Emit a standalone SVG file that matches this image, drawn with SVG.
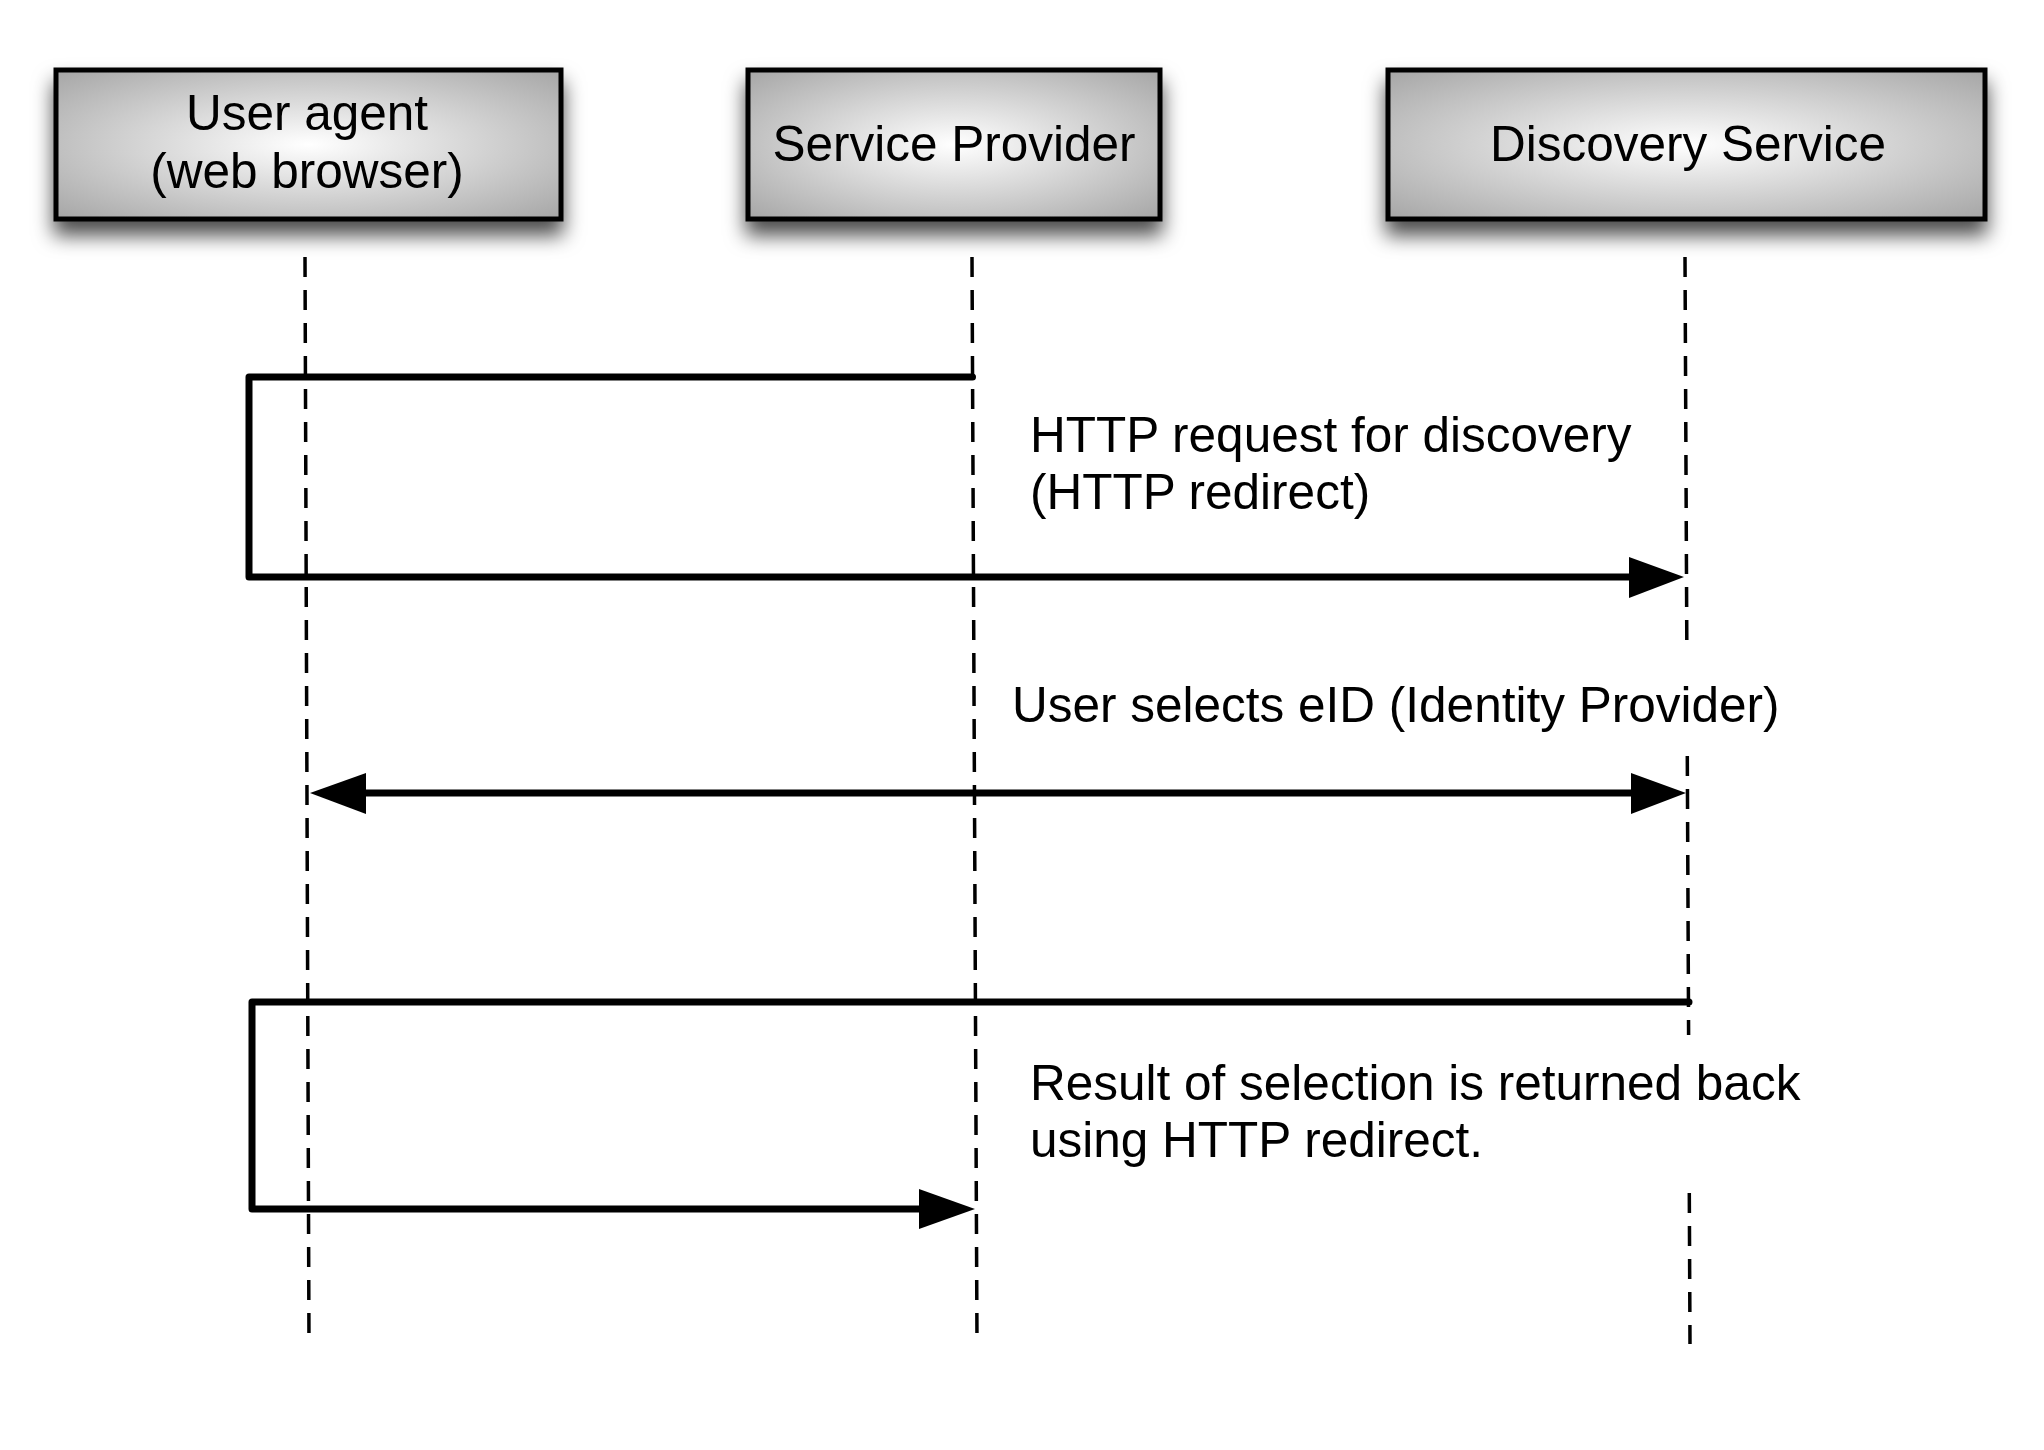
<svg xmlns="http://www.w3.org/2000/svg" width="2044" height="1450" viewBox="0 0 2044 1450">
  <style>
    .box { stroke: #000; stroke-width: 5; fill: url(#boxGrad); filter: url(#shadow); }
    .label { font-family: "Liberation Sans", Arial, Helvetica, sans-serif; font-size: 49.5px; fill: #000; }
    .mid { text-anchor: middle; }
    .life { stroke: #000; stroke-width: 3.5; stroke-dasharray: 20 13; fill: none; }
    .msg { stroke: #000; stroke-width: 7; fill: none; stroke-linecap: round; stroke-linejoin: round; }
    .head { fill: #000; stroke: none; }
  </style>
  <defs>
    <radialGradient id="boxGrad" cx="0.5" cy="0.5" r="0.7">
      <stop offset="0" stop-color="#ffffff"/>
      <stop offset="1" stop-color="#a6a6a6"/>
    </radialGradient>
    <filter id="shadow" x="-10%" y="-20%" width="120%" height="170%">
      <feDropShadow dx="0" dy="14" stdDeviation="10" flood-color="#000" flood-opacity="0.7"/>
    </filter>
  </defs>
  <rect width="2044" height="1450" fill="#fff"/>

  <g id="node-user-agent">
    <rect class="box" x="56" y="70" width="505" height="149"/>
    <text class="label mid" x="307" y="130">User agent</text>
    <text class="label mid" x="307" y="188">(web browser)</text>
  </g>
  <g id="node-service-provider">
    <rect class="box" x="748" y="70" width="412" height="149"/>
    <text class="label mid" x="954" y="161">Service Provider</text>
  </g>
  <g id="node-discovery-service">
    <rect class="box" x="1388" y="70" width="597" height="149"/>
    <text class="label mid" x="1688" y="161">Discovery Service</text>
  </g>

  <g id="lifelines">
    <line class="life" x1="305" y1="257" x2="309" y2="1344"/>
    <line class="life" x1="972" y1="257" x2="977" y2="1344"/>
    <line class="life" x1="1685" y1="257" x2="1686.8" y2="641"/>
    <line class="life" x1="1687.3" y1="756" x2="1688.6" y2="1035"/>
    <line class="life" x1="1689.3" y1="1193" x2="1690" y2="1344"/>
  </g>

  <g id="connectors">
    <g id="msg-discovery-request">
      <path class="msg" d="M 972.5 377 H 249 V 577 H 1632"/>
      <polygon class="head" points="1629,557 1684,577 1629,598"/>
    </g>
    <g id="msg-user-selects">
      <path class="msg" d="M 362 793 H 1632"/>
      <polygon class="head" points="310,793 366,773 366,814"/>
      <polygon class="head" points="1631,773 1686,793 1631,814"/>
    </g>
    <g id="msg-result">
      <path class="msg" d="M 1689 1002 H 252 V 1209 H 922"/>
      <polygon class="head" points="919,1189 975,1209 919,1229"/>
    </g>
  </g>

  <g id="label-discovery-request">
    <text class="label" x="1030" y="452">HTTP request for discovery</text>
    <text class="label" x="1030" y="509">(HTTP redirect)</text>
  </g>
  <g id="label-user-selects">
    <text class="label" x="1012" y="722">User selects eID (Identity Provider)</text>
  </g>
  <g id="label-result">
    <text class="label" x="1030" y="1100">Result of selection is returned back</text>
    <text class="label" x="1030" y="1157">using HTTP redirect.</text>
  </g>
</svg>
